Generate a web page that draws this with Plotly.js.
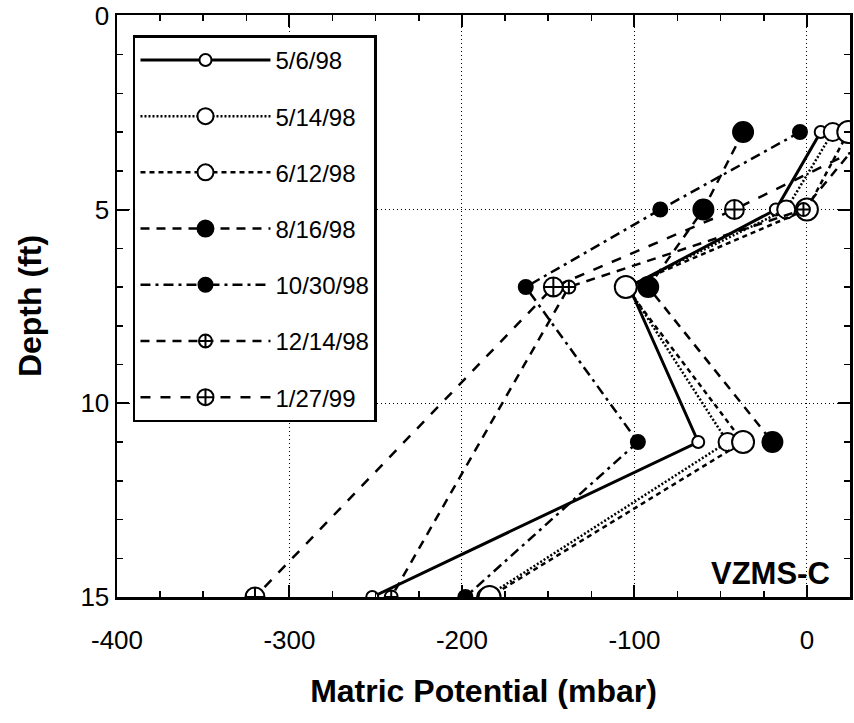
<!DOCTYPE html>
<html><head><meta charset="utf-8">
<script src="https://cdn.plot.ly/plotly-3.0.1.min.js"></script>
<style>html,body{margin:0;padding:0;background:#fff}#chart{width:854px;height:723px}</style>
</head><body><div id="chart"></div>
<script>
// Depths (ft) of the sensors
const depth = [3, 5, 7, 11, 15];
// Series names (sampling dates)
const seriesNames = ['5/6/98', '5/14/98', '6/12/98', '8/16/98', '10/30/98', '12/14/98', '1/27/99'];
// Matric potential (mbar) per date, at each depth (null = no reading)
const p_050698 = [8, -18, -103, -63, -252];
const p_051498 = [15, -12, -104, -46, -186];
const p_061298 = [24, 0, -105, -37, -184];
const p_081698 = [-37, -60, -92, -20, null];
const p_103098 = [-4, -85, -163, -98, -198];
const p_121498 = [35, -2, -138, null, -241];
const p_012799 = [50, -42, -147, null, -320];
// Tick labels
const xTickVals = [-400, -300, -200, -100, 0];
const xTickText = ['-400', '-300', '-200', '-100', '0'];
const yTickVals = [0, 5, 10, 15];
const yTickText = ['0', '5', '10', '15'];

const values = [p_050698, p_051498, p_061298, p_081698, p_103098, p_121498, p_012799];
const styles = [
  {dash: 'solid', width: 3, symbol: 'circle', fill: 'white', size: 12},
  {dash: '2px,2px', width: 2.5, symbol: 'circle', fill: 'white', size: 18},
  {dash: '5px,4px', width: 2.5, symbol: 'circle', fill: 'white', size: 22},
  {dash: '9px,7px', width: 2.5, symbol: 'circle', fill: 'black', size: 20},
  {dash: '10px,5px,3px,5px', width: 2.5, symbol: 'circle', fill: 'black', size: 14},
  {dash: '9px,7px', width: 2.5, symbol: 'circle-cross', fill: 'white', size: 13},
  {dash: '10px,10px', width: 2.5, symbol: 'circle-cross', fill: 'white', size: 19}
];

const traces = values.map((v, i) => ({
  type: 'scatter', mode: 'lines+markers',
  x: v, y: depth, name: seriesNames[i], legendgroup: 'g' + i,
  connectgaps: true, cliponaxis: true,
  line: {color: 'black', width: styles[i].width, dash: styles[i].dash},
  marker: {symbol: styles[i].symbol, size: styles[i].size, color: styles[i].fill,
           line: {color: 'black', width: 2}}
}));

const tickFont = {family: 'Liberation Sans, Arial', size: 26, color: 'black'};
const titleFont = {family: 'Liberation Sans, Arial', size: 32, color: 'black', weight: 'bold'};

const layout = {
  width: 854, height: 723,
  margin: {l: 117, r: 4, t: 15, b: 126},
  paper_bgcolor: 'white', plot_bgcolor: 'white',
  showlegend: true,
  xaxis: {
    range: [-400, 25], tickmode: 'array', tickvals: xTickVals, ticktext: xTickText,
    ticks: 'inside', ticklen: 12, tickwidth: 2, tickcolor: 'black',
    showline: true, linewidth: 2.5, linecolor: 'black', mirror: 'allticks',
    showgrid: true, gridcolor: 'black', gridwidth: 1, griddash: '1px,3px', zeroline: false,
    tickfont: tickFont, ticklabelstandoff: 18,
    minor: {dtick: 25, tick0: 0, ticks: 'inside', ticklen: 6, tickwidth: 1.5, tickcolor: 'black', showgrid: false},
    title: {text: 'Matric Potential (mbar)', font: titleFont, standoff: 26}
  },
  yaxis: {
    range: [15, -0.02], tickmode: 'array', tickvals: yTickVals, ticktext: yTickText,
    ticks: 'inside', ticklen: 12, tickwidth: 2, tickcolor: 'black',
    showline: true, linewidth: 2.5, linecolor: 'black', mirror: 'allticks',
    showgrid: true, gridcolor: 'black', gridwidth: 1, griddash: '1px,3px', zeroline: false,
    tickfont: tickFont, ticklabelstandoff: 0,
    minor: {dtick: 1, tick0: 0, ticks: 'inside', ticklen: 6, tickwidth: 1.5, tickcolor: 'black', showgrid: false},
    title: {text: 'Depth (ft)', font: titleFont, standoff: 29}
  },
  legend: {
    x: 0.0218, y: 0.965, xanchor: 'left', yanchor: 'top',
    bgcolor: 'white', bordercolor: 'black', borderwidth: 2.5,
    font: {family: 'Liberation Sans, Arial', size: 24, color: 'black'},
    itemwidth: 130,
    tracegroupgap: 22, traceorder: 'grouped'
  },
  annotations: [{
    text: '<b>VZMS-C</b>', xref: 'paper', yref: 'paper', x: 0.975, y: 0.04,
    xanchor: 'right', yanchor: 'middle', showarrow: false,
    font: {family: 'Liberation Sans, Arial', size: 31, color: 'black'}
  }]
};

Plotly.newPlot('chart', traces, layout, {displayModeBar: false, staticPlot: true});
</script>
</body></html>
